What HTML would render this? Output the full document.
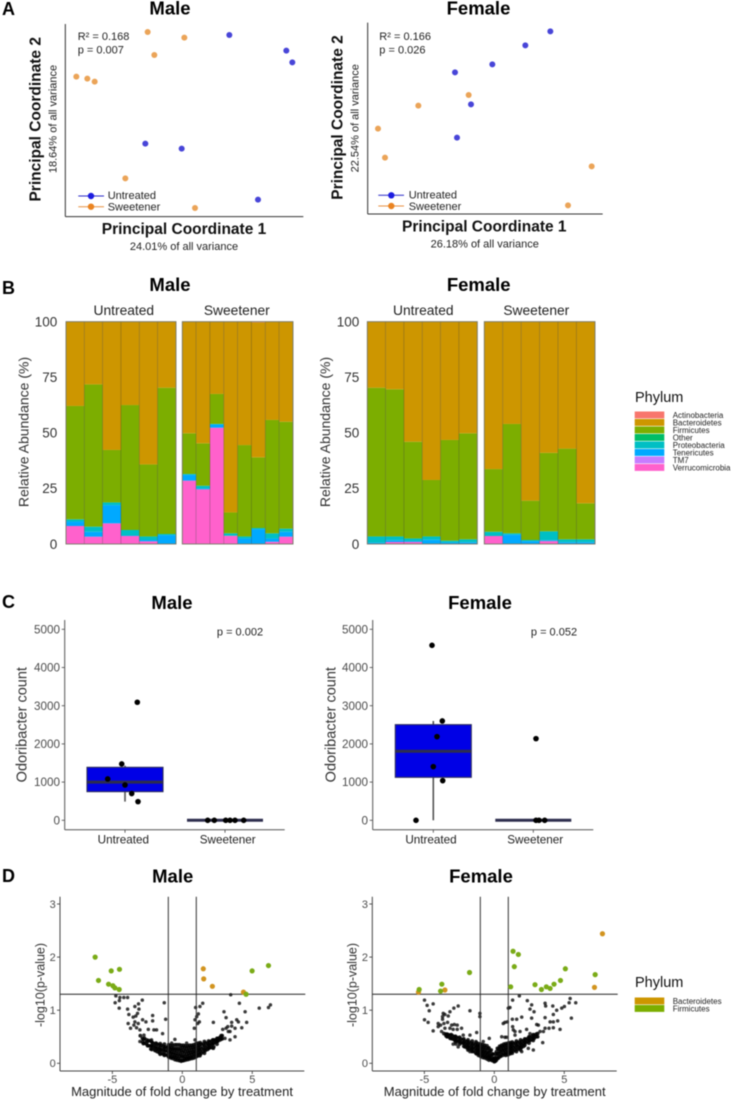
<!DOCTYPE html>
<html lang="en">
<head>
<meta charset="utf-8">
<title>Microbiome figure</title>
<style>
html,body{margin:0;padding:0;background:#fff;}
svg{display:block;filter:blur(0.4px);}
text{font-family:"Liberation Sans",sans-serif;fill:#1a1a1a;}
.ttl{font-size:18.5px;font-weight:bold;text-anchor:middle;fill:#000;}
.tag{font-size:18px;font-weight:bold;fill:#000;}
.pc{font-size:15.5px;font-weight:bold;text-anchor:middle;fill:#111;}
.var{font-size:11px;text-anchor:middle;fill:#222;}
.ann{font-size:11px;fill:#222;}
.strip{font-size:13.8px;text-anchor:middle;fill:#222;}
.ytitle{font-size:14px;text-anchor:middle;fill:#333;}
.leg{font-size:8px;fill:#222;}
.legt{font-size:14.5px;fill:#111;}
.xtitle{font-size:13px;text-anchor:middle;fill:#222;}
</style>
</head>
<body>
<svg id="fig" width="733" height="1101" viewBox="0 0 733 1101" xmlns="http://www.w3.org/2000/svg">
<rect width="733" height="1101" fill="#fff"/>

<!-- Panel A -->
<g id="panel-a-male">
  <text class="tag" x="2" y="15">A</text>
  <text class="ttl" x="170" y="14.5">Male</text>
  <text class="pc" x="184" y="234">Principal Coordinate 1</text>
  <text class="var" x="184" y="250">24.01% of all variance</text>
  <text class="pc" transform="translate(40.7,119.3) rotate(-90)">Principal Coordinate 2</text>
  <text class="var" transform="translate(56.7,119) rotate(-90)">18.64% of all variance</text>
  <text class="ann" x="77.7" y="40">R² = 0.168</text>
  <text class="ann" x="77.7" y="53.5">p = 0.007</text>
  <line x1="78.3" x2="104" y1="196" y2="196" stroke="#2a2ac8" stroke-width="1"/>
  <circle cx="91" cy="196" r="3.2" fill="#1c1ce0"/>
  <text class="ann" x="107.7" y="199">Untreated</text>
  <line x1="78.3" x2="104" y1="206.7" y2="206.7" stroke="#e89040" stroke-width="1"/>
  <circle cx="91" cy="206.7" r="3.2" fill="#ea8320"/>
  <text class="ann" x="107.7" y="210.5">Sweetener</text>
</g>
<g id="panel-a-female">
  <text class="ttl" x="478.5" y="14.5">Female</text>
  <text class="pc" x="484.3" y="231.7">Principal Coordinate 1</text>
  <text class="var" x="484.7" y="247.3">26.18% of all variance</text>
  <text class="pc" transform="translate(342.7,117.5) rotate(-90)">Principal Coordinate 2</text>
  <text class="var" transform="translate(358.3,118.3) rotate(-90)">22.54% of all variance</text>
  <text class="ann" x="379.3" y="40">R² = 0.166</text>
  <text class="ann" x="379.3" y="53.5">p = 0.026</text>
  <line x1="378.3" x2="404" y1="195.3" y2="195.3" stroke="#2a2ac8" stroke-width="1"/>
  <circle cx="391.3" cy="195.3" r="3.2" fill="#1c1ce0"/>
  <text class="ann" x="408.7" y="198.5">Untreated</text>
  <line x1="378.3" x2="404" y1="206" y2="206" stroke="#e89040" stroke-width="1"/>
  <circle cx="391.3" cy="206" r="3.2" fill="#ea8320"/>
  <text class="ann" x="408.7" y="210">Sweetener</text>
</g>

<!-- Panel B -->
<g id="panel-b-male">
  <text class="tag" x="2" y="294">B</text>
  <text class="ttl" x="170" y="291">Male</text>
  <text class="strip" x="123.8" y="315">Untreated</text>
  <text class="strip" x="236.8" y="315">Sweetener</text>
  <text class="ytitle" transform="translate(28.3,432) rotate(-90)">Relative Abundance (%)</text>
</g>
<g id="panel-b-female">
  <text class="ttl" x="478.7" y="291">Female</text>
  <text class="strip" x="423.3" y="315">Untreated</text>
  <text class="strip" x="536.3" y="315">Sweetener</text>
  <text class="ytitle" transform="translate(330,432) rotate(-90)">Relative Abundance (%)</text>
</g>
<g>
  <text class="legt" x="635" y="402">Phylum</text>
  <rect x="634.7" y="411.5" width="29.6" height="6.9" fill="#f8766d"/>
  <rect x="634.7" y="419" width="29.6" height="6.9" fill="#cd9600"/>
  <rect x="634.7" y="426.5" width="29.6" height="6.9" fill="#7cae00"/>
  <rect x="634.7" y="434" width="29.6" height="6.9" fill="#00be67"/>
  <rect x="634.7" y="441.5" width="29.6" height="6.9" fill="#00bfc4"/>
  <rect x="634.7" y="449" width="29.6" height="6.9" fill="#00a9ff"/>
  <rect x="634.7" y="456.5" width="29.6" height="6.9" fill="#c77cff"/>
  <rect x="634.7" y="464" width="29.6" height="6.9" fill="#ff61cc"/>
  <text class="leg" x="672.7" y="418">Actinobacteria</text>
  <text class="leg" x="672.7" y="425.5">Bacteroidetes</text>
  <text class="leg" x="672.7" y="433">Firmicutes</text>
  <text class="leg" x="672.7" y="440.5">Other</text>
  <text class="leg" x="672.7" y="448">Proteobacteria</text>
  <text class="leg" x="672.7" y="455.5">Tenericutes</text>
  <text class="leg" x="672.7" y="463">TM7</text>
  <text class="leg" x="672.7" y="470.5">Verrucomicrobia</text>
</g>

<!-- Panel C -->
<g id="panel-c-male">
  <text class="tag" x="2" y="608">C</text>
  <text class="ttl" x="172" y="609">Male</text>
  <text class="ytitle" style="font-size:14.5px" transform="translate(26.7,724.7) rotate(-90)">Odoribacter count</text>
  <text class="ann" text-anchor="middle" x="240" y="635.3">p = 0.002</text>
</g>
<g id="panel-c-female">
  <text class="ttl" x="480" y="609">Female</text>
  <text class="ytitle" style="font-size:14.5px" transform="translate(335.3,724.7) rotate(-90)">Odoribacter count</text>
  <text class="ann" text-anchor="middle" x="554" y="635.3">p = 0.052</text>
</g>

<!-- Panel D -->
<g id="panel-d-male">
  <text class="tag" x="2" y="882">D</text>
  <text class="ttl" x="172.7" y="882.7">Male</text>
  <text class="xtitle" x="182" y="1096">Magnitude of fold change by treatment</text>
  <text class="ytitle" style="font-size:13px" textLength="84" lengthAdjust="spacingAndGlyphs" transform="translate(44.3,985) rotate(-90)">-log10(p-value)</text>
</g>
<g id="panel-d-female">
  <text class="ttl" x="481" y="882.7">Female</text>
  <text class="xtitle" x="494.7" y="1096">Magnitude of fold change by treatment</text>
  <text class="ytitle" style="font-size:13px" textLength="84" lengthAdjust="spacingAndGlyphs" transform="translate(356.7,985) rotate(-90)">-log10(p-value)</text>
</g>
<g>
  <text class="legt" x="635" y="987">Phylum</text>
  <rect x="634.7" y="997.5" width="29.6" height="6.9" fill="#cd9600"/>
  <rect x="634.7" y="1005" width="29.6" height="6.9" fill="#7cae00"/>
  <text class="leg" x="672.7" y="1004">Bacteroidetes</text>
  <text class="leg" x="672.7" y="1011.5">Firmicutes</text>
</g>
</svg>

<script>
// ---------- Panel A data: PCoA coordinates ----------
const pcoaMaleUntreatedX = [0.138,0.309,0.327,-0.114,-0.005,0.224];
const pcoaMaleUntreatedY = [0.255,0.208,0.173,-0.071,-0.086,-0.239];
const pcoaMaleSweetenerX = [-0.107,0.003,-0.087,-0.321,-0.288,-0.266,-0.174,0.035];
const pcoaMaleSweetenerY = [0.264,0.247,0.195,0.130,0.124,0.115,-0.175,-0.264];
const pcoaFemaleUntreatedX = [0.191,0.116,0.017,-0.095,-0.047,-0.089];
const pcoaFemaleUntreatedY = [0.256,0.214,0.157,0.133,0.037,-0.063];
const pcoaFemaleSweetenerX = [-0.054,-0.205,-0.326,-0.305,0.315,0.244];
const pcoaFemaleSweetenerY = [0.065,0.033,-0.036,-0.123,-0.149,-0.266];

// ---------- Panel B data: relative abundance (%) per sample ----------
const abundanceTicks = [0,25,50,75,100];
const abundanceTickLabels = ['0','25','50','75','100'];
const phylumNames = ['Actinobacteria','Bacteroidetes','Firmicutes','Other','Proteobacteria','Tenericutes','TM7','Verrucomicrobia'];
const phylumColors = ['#f8766d','#cd9600','#7cae00','#00be67','#00bfc4','#00a9ff','#c77cff','#ff61cc'];

const maleUntreatedActino = [0,0,0,0,0,0];
const maleUntreatedBact = [37.9,28.2,57.7,37.5,64.2,29.7];
const maleUntreatedFirm = [51,64,23.6,56.2,32.4,65.8];
const maleUntreatedOther = [0,0,0,0,0,0];
const maleUntreatedProteo = [1,2.3,1.2,2.5,1.6,0.5];
const maleUntreatedTeneri = [2,2.2,8.2,0.2,0.6,4];
const maleUntreatedTm7 = [0,0,0,0,0,0];
const maleUntreatedVerruco = [8.1,3.3,9.3,3.6,1.2,0];

const maleSweetActino = [0,0,0,0,0,0.3,0,0];
const maleSweetBact = [50.2,54.7,32.5,85.8,55.5,60.7,44.2,45];
const maleSweetFirm = [18.3,19.1,13.5,9.4,41.1,31.8,51,48.1];
const maleSweetOther = [0,0,0,0,0,0,0,0];
const maleSweetProteo = [0.4,1.2,0.2,1.1,0.9,0.5,2.3,1.4];
const maleSweetTeneri = [2.6,0.4,1.5,0,2.5,6.7,1.5,2.2];
const maleSweetTm7 = [0,0,0,0,0,0,0,0];
const maleSweetVerruco = [28.5,24.6,52.3,3.7,0,0,1,3.3];

const femaleUntreatedActino = [0,0,0,0,0,0];
const femaleUntreatedBact = [29.7,30.4,54,71.2,53.2,50.2];
const femaleUntreatedFirm = [66.9,66.2,43.5,25.4,45.3,47.7];
const femaleUntreatedOther = [0,0,0,0,0,0];
const femaleUntreatedProteo = [2.8,1.7,1.2,1.5,0.8,1.3];
const femaleUntreatedTeneri = [0.6,0.8,0.4,1.9,0.7,0.8];
const femaleUntreatedTm7 = [0,0,0,0,0,0];
const femaleUntreatedVerruco = [0,0.9,0.9,0,0,0];

const femaleSweetActino = [0,0,0,0,0,0];
const femaleSweetBact = [66.3,46,80.5,59,57.1,81.7];
const femaleSweetFirm = [28.2,49.2,17.7,35.3,40.8,16.2];
const femaleSweetOther = [0,0,0,0,0,0];
const femaleSweetProteo = [1.9,0.6,0.5,4,1.3,1.3];
const femaleSweetTeneri = [0,4.2,1.3,0.4,0.8,0.8];
const femaleSweetTm7 = [0,0,0,0,0,0];
const femaleSweetVerruco = [3.6,0,0,1.3,0,0];

// ---------- Panel C data: Odoribacter counts ----------
const countTicks = [0,1000,2000,3000,4000,5000];
const countTickLabels = ['0','1000','2000','3000','4000','5000'];
const treatmentLabels = ['Untreated','Sweetener'];
const maleUntreatedBox = [489,750,1000,1387,1430];   // low whisker, q1, median, q3, high whisker
const maleSweetenerBox = [0,0,0,0,0];
const femaleUntreatedBox = [0,1125,1806,2504,2600];
const femaleSweetenerBox = [0,0,0,0,0];
const maleUntreatedCounts = [3090,1475,1082,925,700,489];
const maleUntreatedJitter = [0.123,-0.033,-0.173,0,0.067,0.13];
const maleSweetenerCounts = [0,0,0,0,0,0];
const maleSweetenerJitter = [-0.173,-0.107,0.007,0.05,0.1,0.187];
const femaleUntreatedCounts = [4581,2600,2190,1405,1038,0];
const femaleUntreatedJitter = [-0.013,0.09,0.037,0,0.094,-0.173];
const femaleSweetenerCounts = [2138,0,0,0];
const femaleSweetenerJitter = [0.027,0.027,0.057,0.114];

// ---------- Panel D data: volcano points, [fold change, -log10 p] ----------
const volcanoYTicks = [0,1,2,3];
const volcanoYLabels = ['0','1','2','3'];
const volcanoXTicks = [-5,0,5];
const volcanoXLabels = ['-5','0','5'];
const volcanoThreshold = 1.3;
const foldCutoffs = [-1,1];

const maleFirmicutesPoints = [[-6.23,2.0],[-5.99,1.56],[-5.08,1.74],[-4.49,1.77],[-5.27,1.49],[-4.96,1.46],[-4.82,1.42],[-4.51,1.39],[4.99,1.74],[6.16,1.84],[4.56,1.3]];
const maleBacteroidetesPoints = [[1.5,1.78],[1.53,1.59],[2.15,1.45],[4.37,1.34]];
const maleScatterPoints = [[-4.75,1.27],[-4.46,1.24],[-4.18,1.24],[-3.91,1.24],[-4.8,1.14],[-4.5,1.18],[-4.51,1.04],[-3.91,1.02],[-3.39,1.07],[-2.86,1.19],[-3.13,1.12],[-3.82,.92],[-3.1,1.02],[-3.2,.94],[-3.32,.89],[-3.51,.87],[-3.87,.75],[-3.39,.78],[-3.7,.66],[-3.46,.72],[-3.15,.75],[-2.84,.82],[-2.6,.78],[-2.12,.9],[-2.12,.8],[-2.03,.63],[-1.84,.63],[-2.43,.64],[-2.74,.53],[-3.03,.63],[-3.27,.67],[-1.41,.56],[-1.19,.83],[-1.29,1.14],[-3.03,.41],[-2.6,.39],[-2.08,.28],[-1.96,.25],[-1.6,.2],[-.93,.16],[-.53,.45],[-.76,.38],[.31,.38],[.91,.44],[.86,.66],[.91,.82],[.95,1.05],[1.15,.93],[1.26,1.07],[1.46,1.13],[1.03,.88],[1.1,.75],[1.22,.78],[2.22,.77],[2.98,.97],[3.13,.86],[3.46,1.29],[4.08,1.13],[4.49,.97],[4.6,.77],[5.5,1.04],[6.16,1.05],[6.3,1.1],[3.53,.77],[3.25,.69],[3.41,.6],[3.89,.82],[4.01,.78],[4.25,.67],[3.77,.66],[3.53,.7],[3.13,.66],[2.89,.64],[3.77,.5],[3.29,.6],[3.05,.47],[3.41,.44],[1.62,.31],[2.22,.28],[1.26,.14],[.84,.11],[-1.96,.35],[-2.2,.44]];
// Dense V-shaped band: each row is [fold change, value, value, ...]
const maleBandRows = [[-3,.52],[-2.85,.47,.40],[-2.7,.47,.38],[-2.55,.44,.36],[-2.4,.43,.33],[-2.25,.42,.33,.27],[-2.1,.38,.31],[-1.95,.36,.29,.24],[-1.8,.36,.28,.22],[-1.65,.34,.27,.20],[-1.5,.34,.26,.19],[-1.35,.32,.25,.17],[-1.2,.31,.24,.16],[-1.05,.30,.23,.15],[-.9,.29,.22,.13],[-.75,.29,.21,.12],[-.6,.28,.20,.12],[-.45,.28,.19,.10],[-.3,.28,.18,.09],[-.15,.28,.18,.07],[0,.3,.2,.12,.05],[.15,.29,.18,.08],[.3,.28,.17,.09],[.45,.29,.19,.1],[.6,.3,.2,.11],[.75,.3,.21,.12],[.9,.31,.22,.14],[1.05,.33,.24,.15],[1.2,.34,.26,.17],[1.35,.36,.27,.19],[1.5,.36,.29,.22],[1.65,.38,.3,.24],[1.8,.38,.32,.26],[1.95,.4,.34,.29],[2.1,.42,.36,.3],[2.25,.44,.38,.31],[2.4,.44,.4],[2.55,.47,.42],[2.7,.49,.44],[2.85,.52,.46]];
const maleBandFillRows = [[-2.78,.45,.37],[-2.48,.41,.33],[-2.18,.4,.33,.26],[-1.88,.38,.31,.25],[-1.58,.37,.3,.24,.17],[-1.28,.36,.29,.22,.15],[-.98,.35,.28,.2,.12],[-.82,.34,.26,.18,.1],[-.68,.34,.26,.17,.09],[-.52,.35,.25,.15,.07],[-.38,.35,.24,.14,.06],[-.22,.35,.24,.13,.05],[-.08,.34,.24,.14,.04],[.08,.34,.24,.13,.05],[.22,.33,.23,.12,.06],[.38,.33,.23,.13,.07],[.52,.34,.24,.15,.08],[.68,.34,.25,.16,.09],[.82,.35,.26,.18,.1],[.98,.37,.28,.2,.12],[1.13,.38,.29,.21,.14],[1.28,.39,.31,.23,.16],[1.58,.41,.33,.26,.19],[1.88,.42,.35,.28],[2.18,.44,.37,.29],[2.48,.47,.41,.36],[2.78,.52,.46]];

const femaleFirmicutesPoints = [[-5.37,1.39],[-3.75,1.49],[-3.84,1.36],[-1.77,1.71],[1.34,2.11],[1.72,2.05],[1.43,1.82],[1.17,1.44],[2.91,1.48],[3.37,1.39],[3.72,1.44],[3.99,1.41],[4.27,1.49],[4.73,1.56],[5.08,1.78],[7.21,1.67]];
const femaleBacteroidetesPoints = [[7.73,2.44],[7.16,1.43],[-3.53,1.38],[-5.42,1.34]];
const femaleScatterPoints = [[-4.99,1.19],[-4.8,1.09],[-4.37,1.12],[-4.65,.99],[-4.99,.82],[-4.73,.77],[-4.37,.61],[-4.01,.75],[-4.01,.69],[-3.77,.6],[-3.65,.94],[-3.53,.92],[-3.7,.88],[-3.7,.83],[-3.29,.89],[-3.17,.97],[-2.89,1.04],[-2.58,1.08],[-3.34,.77],[-3.6,.75],[-3.84,.72],[-3.53,.66],[-3.05,.72],[-2.86,.73],[-2.65,.72],[-2.65,.64],[-2.34,.66],[-2.94,.64],[-3.17,.66],[-1.74,.99],[-1.03,.94],[-1.03,.88],[-1.26,.58],[-1.74,.53],[-2.22,.53],[-2.74,.36],[-2.94,.36],[-2.58,.31],[-1.74,.22],[-1.31,.41],[-.79,.41],[-.36,.47],[.53,.5],[.76,.49],[.64,.75],[.76,.77],[.93,.78],[1,1.04],[1.12,1.05],[1.31,1.19],[1.79,1.27],[2.36,1.18],[1.29,.83],[1.6,.83],[1.96,.87],[2.67,.85],[1.31,.69],[1.36,.63],[1.48,.6],[1.48,.53],[1.84,.6],[2.31,.64],[2.55,.56],[2.67,1.1],[2.55,1.02],[2.84,.97],[3.63,1.13],[3.67,1.08],[3.63,.86],[4.18,1.08],[4.46,1.0],[4.22,.92],[4.82,1.04],[5.01,1.07],[5.35,1.14],[5.42,1.22],[5.82,1.14],[5.51,.85],[4.7,.64],[4.53,.8],[4.22,.78],[3.99,.78],[3.91,.66],[4.22,.67],[3.63,.66],[3.51,.6],[3.15,.72],[3.03,.73],[3.46,.39],[2.79,.25],[2.43,.28],[1.96,.22],[1.6,.28],[.88,.49],[3.27,.6]];
const femaleBandRows = [[-3.6,.56],[-3.45,.55,.52],[-3.3,.54,.5],[-3.15,.53,.47],[-3,.52,.46],[-2.85,.5,.44],[-2.7,.49,.42],[-2.55,.47,.41],[-2.4,.46,.39],[-2.25,.44,.38],[-2.1,.42,.36,.31],[-1.95,.41,.35,.29],[-1.8,.4,.33,.27],[-1.65,.38,.31,.25],[-1.5,.37,.3,.23],[-1.35,.35,.28,.2],[-1.2,.33,.26,.19],[-1.05,.32,.25,.17],[-.9,.31,.23,.16],[-.75,.3,.22,.14],[-.6,.29,.2,.12],[-.45,.28,.18,.11],[-.3,.23,.14,.08],[-.15,.18,.1,.05],[0,.1,.05,.03],[.15,.22,.13,.06],[.3,.27,.18,.1],[.45,.3,.21,.13],[.6,.32,.24,.15],[.75,.33,.25,.17],[.9,.34,.26,.18],[1.05,.35,.27,.2],[1.2,.36,.29,.21],[1.35,.37,.3,.23],[1.5,.38,.31,.25],[1.65,.39,.32,.26],[1.8,.4,.33,.28],[1.95,.41,.35,.3],[2.1,.43,.37,.32],[2.25,.45,.39],[2.4,.47,.41],[2.55,.49,.43],[2.7,.51,.45],[2.85,.53,.47],[3,.55,.5]];
const femaleBandFillRows = [[-3.38,.55,.5],[-3.08,.54,.47],[-2.78,.51,.45,.4],[-2.48,.49,.42,.36],[-2.18,.46,.39,.32],[-1.88,.44,.37,.31,.25],[-1.58,.42,.35,.28,.22],[-1.28,.39,.32,.25,.18],[-1.13,.37,.3,.23,.15],[-.98,.36,.28,.21,.13],[-.82,.35,.27,.19,.11],[-.68,.34,.25,.17,.1],[-.52,.33,.23,.15,.08],[-.38,.29,.2,.12,.06],[-.22,.25,.15,.07],[-.08,.17,.08],[.08,.18,.09,.04],[.22,.28,.18,.09],[.38,.32,.23,.13],[.52,.34,.26,.17],[.68,.36,.28,.2],[.82,.37,.29,.21,.15],[.98,.38,.3,.22,.16],[1.13,.39,.31,.24,.18],[1.28,.4,.33,.26,.19],[1.58,.42,.35,.28,.22],[1.88,.44,.37,.3,.25],[2.18,.46,.4,.34],[2.48,.5,.44,.38],[2.78,.54,.48,.43],[3.1,.56,.5]];

// ---------- Helpers ----------
const SVG_NS = 'http://www.w3.org/2000/svg';
function linearScale(d0, d1, r0, r1) {
  return function (v) { return r0 + (v - d0) / (d1 - d0) * (r1 - r0); };
}
function addShape(parent, tag, attrs) {
  const node = document.createElementNS(SVG_NS, tag);
  for (const key in attrs) node.setAttribute(key, attrs[key]);
  parent.appendChild(node);
  return node;
}
function addAxisLine(parent, x1, y1, x2, y2, color, width) {
  const axis = addShape(parent, 'line', {x1: x1, y1: y1, x2: x2, y2: y2, stroke: color, 'stroke-width': width});
  
  
}
function addTickLabel(parent, x, y, content, anchor, size, color) {
  const label = addShape(parent, 'text', {x: x, y: y, 'text-anchor': anchor, style: 'font-size:' + size + 'px;fill:' + color});
  label.textContent = content;
  
  
}
function addTickMark(parent, x1, y1, x2, y2, color) {
  const mark = addShape(parent, 'line', {x1: x1, y1: y1, x2: x2, y2: y2, stroke: color, 'stroke-width': 0.9});
  
  
}
function addDot(parent, cx, cy, r, fill, opacity, name) {
  const dot = addShape(parent, 'circle', {cx: cx, cy: cy, r: r, fill: fill, 'fill-opacity': opacity});
  
  
}

// ---------- Panel A ----------
function drawPcoa(groupId, xs, ys, frame, untreatedX, untreatedY, sweetenerX, sweetenerY) {
  const g = document.getElementById(groupId);
  addAxisLine(g, frame.left, frame.top, frame.left, frame.bottom, '#333', 1);
  addAxisLine(g, frame.left, frame.bottom, frame.right, frame.bottom, '#333', 1);
  untreatedX.forEach(function (v, i) {
    addDot(g, xs(v), ys(untreatedY[i]), 3, '#4845d8', 1, 'untreated-sample-point');
  });
  sweetenerX.forEach(function (v, i) {
    addDot(g, xs(v), ys(sweetenerY[i]), 3, '#eba458', 1, 'sweetener-sample-point');
  });
}
drawPcoa('panel-a-male',
  linearScale(-0.354, 0.36, 65.33, 303.33), linearScale(-0.29, 0.288, 216.67, 24),
  {left: 65.33, right: 303.33, top: 24, bottom: 216.67},
  pcoaMaleUntreatedX, pcoaMaleUntreatedY, pcoaMaleSweetenerX, pcoaMaleSweetenerY);
drawPcoa('panel-a-female',
  linearScale(-0.357, 0.348, 367.67, 602.67), linearScale(-0.292, 0.282, 214, 22.67),
  {left: 367.67, right: 602.67, top: 22.67, bottom: 214},
  pcoaFemaleUntreatedX, pcoaFemaleUntreatedY, pcoaFemaleSweetenerX, pcoaFemaleSweetenerY);

// ---------- Panel B ----------
function drawFacet(g, left, right, yScale, seriesList) {
  const count = seriesList[0].length;
  const barWidth = (right - left) / count;
  for (let s = 0; s < count; s++) {
    let cumulative = 0;
    const barX = left + s * barWidth;
    for (let p = seriesList.length - 1; p >= 0; p--) {
      const value = seriesList[p][s];
      if (value <= 0) continue;
      const yTop = yScale(cumulative + value);
      const yBottom = yScale(cumulative);
      const segment = addShape(g, 'rect', {x: barX, y: yTop, width: barWidth, height: yBottom - yTop, fill: phylumColors[p]});
      
      
      cumulative += value;
    }
    const outline = addShape(g, 'rect', {x: barX, y: yScale(cumulative), width: barWidth, height: yScale(0) - yScale(cumulative), fill: 'none', stroke: 'rgba(55,55,55,0.28)', 'stroke-width': 0.7});
    
    
  }
  const border = addShape(g, 'rect', {x: left, y: yScale(100), width: right - left, height: yScale(0) - yScale(100), fill: 'none', stroke: '#7a7a6a', 'stroke-width': 0.9});
  
  
}
function drawAbundanceTicks(g, yScale, labelX) {
  abundanceTicks.forEach(function (t, i) {
    addTickLabel(g, labelX, yScale(t) + 4.8, abundanceTickLabels[i], 'end', 13.5, '#333');
  });
}
const abundanceY = linearScale(0, 100, 544, 321.67);
const maleBGroup = document.getElementById('panel-b-male');
const femaleBGroup = document.getElementById('panel-b-female');
drawAbundanceTicks(maleBGroup, abundanceY, 57.3);
drawAbundanceTicks(femaleBGroup, abundanceY, 359.3);
drawFacet(maleBGroup, 66, 176, abundanceY, [maleUntreatedActino, maleUntreatedBact, maleUntreatedFirm, maleUntreatedOther, maleUntreatedProteo, maleUntreatedTeneri, maleUntreatedTm7, maleUntreatedVerruco]);
drawFacet(maleBGroup, 182.3, 293, abundanceY, [maleSweetActino, maleSweetBact, maleSweetFirm, maleSweetOther, maleSweetProteo, maleSweetTeneri, maleSweetTm7, maleSweetVerruco]);
drawFacet(femaleBGroup, 367.3, 477.3, abundanceY, [femaleUntreatedActino, femaleUntreatedBact, femaleUntreatedFirm, femaleUntreatedOther, femaleUntreatedProteo, femaleUntreatedTeneri, femaleUntreatedTm7, femaleUntreatedVerruco]);
drawFacet(femaleBGroup, 484.3, 595, abundanceY, [femaleSweetActino, femaleSweetBact, femaleSweetFirm, femaleSweetOther, femaleSweetProteo, femaleSweetTeneri, femaleSweetTm7, femaleSweetVerruco]);

// ---------- Panel C ----------
function drawBox(g, center, halfWidth, yScale, stats) {
  const x1 = center - halfWidth, x2 = center + halfWidth;
  const whisker = addShape(g, 'line', {x1: center, x2: center, y1: yScale(stats[0]), y2: yScale(stats[4]), stroke: '#555', 'stroke-width': 1.6});
  
  
  const box = addShape(g, 'rect', {x: x1, y: yScale(stats[3]), width: x2 - x1, height: yScale(stats[1]) - yScale(stats[3]), fill: '#0000e6', stroke: '#2e2e5e', 'stroke-width': 1.1});
  
  
  const median = addShape(g, 'line', {x1: x1, x2: x2, y1: yScale(stats[2]), y2: yScale(stats[2]), stroke: '#2e2e4e', 'stroke-width': 3});
  
  
}
function drawBoxPanel(groupId, f, boxes, counts, jitters) {
  const g = document.getElementById(groupId);
  const yScale = linearScale(0, 5000, 820.3, 629.3);
  const catX = function (i, offset) { return f.firstCat + (i + (offset || 0)) * f.catStep; };
  addAxisLine(g, f.left, 620, f.left, 829.7, '#555', 1);
  addAxisLine(g, f.left, 829.7, f.right, 829.7, '#555', 1);
  countTicks.forEach(function (t, i) {
    addTickMark(g, f.left - 3, yScale(t), f.left, yScale(t), '#555');
    addTickLabel(g, f.left - 4.7, yScale(t) + 4.1, countTickLabels[i], 'end', 11.7, '#4d4d4d');
  });
  treatmentLabels.forEach(function (name, i) {
    addTickMark(g, catX(i), 829.7, catX(i), 832.7, '#555');
    addTickLabel(g, f.labelCenters[i], 843.3, name, 'middle', 11.7, '#222');
  });
  boxes.forEach(function (stats, i) {
    drawBox(g, catX(i), f.catStep * 0.38, yScale, stats);
    counts[i].forEach(function (v, j) {
      addDot(g, catX(i, jitters[i][j]), yScale(v), 2.8, '#000', 1, 'count-point');
    });
  });
}
drawBoxPanel('panel-c-male', {left: 64.7, right: 284.7, firstCat: 125, catStep: 100, labelCenters: [123.3, 227.7]},
  [maleUntreatedBox, maleSweetenerBox], [maleUntreatedCounts, maleSweetenerCounts], [maleUntreatedJitter, maleSweetenerJitter]);
drawBoxPanel('panel-c-female', {left: 372.7, right: 593.3, firstCat: 433.3, catStep: 100, labelCenters: [431, 535.2]},
  [femaleUntreatedBox, femaleSweetenerBox], [femaleUntreatedCounts, femaleSweetenerCounts], [femaleUntreatedJitter, femaleSweetenerJitter]);

// ---------- Panel D ----------
function drawVolcano(groupId, f, scatter, bandRows, fillRows, firmicutes, bacteroidetes) {
  const g = document.getElementById(groupId);
  const xScale = linearScale(0, 5, f.zero, f.zero + 69.95);
  const yScale = linearScale(0, 3, 1063.3, 904);
  addAxisLine(g, f.left, 896.7, f.left, 1071, '#444', 1);
  addAxisLine(g, f.left, 1071, f.right, 1071, '#444', 1);
  volcanoYTicks.forEach(function (t, i) {
    addTickMark(g, f.left - 3, yScale(t), f.left, yScale(t), '#444');
    addTickLabel(g, f.left - 4.3, yScale(t) + 3.9, volcanoYLabels[i], 'end', 11, '#4d4d4d');
  });
  volcanoXTicks.forEach(function (t, i) {
    addTickMark(g, xScale(t), 1071, xScale(t), 1074, '#444');
    addTickLabel(g, xScale(t), 1082.8, volcanoXLabels[i], 'middle', 11, '#4d4d4d');
  });
  bandRows.concat(fillRows).forEach(function (row) {
    row.slice(1).forEach(function (v) {
      addDot(g, xScale(row[0]), yScale(v), 1.9, '#000', 0.85, 'volcano-band-point');
    });
  });
  scatter.forEach(function (p) {
    addDot(g, xScale(p[0]), yScale(p[1]), 1.75, '#0a0a0a', 0.8, 'volcano-point');
  });
  foldCutoffs.forEach(function (c) {
    const cutoff = addShape(g, 'line', {x1: xScale(c), x2: xScale(c), y1: 896.7, y2: 1071, stroke: '#333', 'stroke-width': 1});
    
    
  });
  const threshold = addShape(g, 'line', {x1: f.left, x2: f.right + 1, y1: yScale(volcanoThreshold), y2: yScale(volcanoThreshold), stroke: '#222', 'stroke-width': 1});
  
  
  bacteroidetes.forEach(function (p) {
    addDot(g, xScale(p[0]), yScale(p[1]), 2.6, '#d2941f', 1, 'bacteroidetes-point');
  });
  firmicutes.forEach(function (p) {
    addDot(g, xScale(p[0]), yScale(p[1]), 2.6, '#7aab17', 1, 'firmicutes-point');
  });
}
drawVolcano('panel-d-male', {left: 60, right: 304.3, zero: 182.3}, maleScatterPoints, maleBandRows, maleBandFillRows, maleFirmicutesPoints, maleBacteroidetesPoints);
drawVolcano('panel-d-female', {left: 372.3, right: 616.7, zero: 494.3}, femaleScatterPoints, femaleBandRows, femaleBandFillRows, femaleFirmicutesPoints, femaleBacteroidetesPoints);
</script>
</body>
</html>
